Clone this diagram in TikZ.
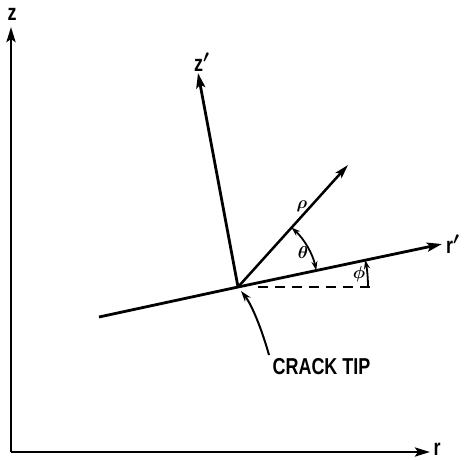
\documentclass[tikz,border=0pt]{standalone}
\usepackage{fontspec}
\usepackage{amsmath}
\newfontfamily\lab{Liberation Sans}[FakeStretch=0.78]
\usetikzlibrary{arrows.meta,calc}
\begin{document}
\begin{tikzpicture}[x=1pt,y=-1pt,
  axis/.style={line width=2.8pt,-{Stealth[length=15pt,width=9pt,inset=3pt]}},
  thin arc/.style={line width=1.8pt},
  labtxt/.style={font=\lab\bfseries\fontsize{23}{23}\selectfont,inner sep=0pt},
  greek/.style={font=\fontsize{17}{17}\selectfont,inner sep=0pt}]
\useasboundingbox (0,0) rectangle (465,459);
% coordinates
\coordinate (O) at (238,287);
\coordinate (zb) at (11,452);
\coordinate (zt) at (11,27);
\coordinate (rt) at (430,452);
\coordinate (rps) at (99,317);
\coordinate (rpt) at (442,244);
\coordinate (zpt) at (198,73);
\coordinate (rho) at (348,165);
\coordinate (ds) at (258,287);
\coordinate (de) at (372,287);
\coordinate (ct) at (269,355);
% axes
\draw[axis] (zb) -- (zt);
\draw[axis] (zb) -- (rt);
\node[labtxt] (zlab) at (12,14) {z};
\node[labtxt] (rlab) at (437,449) {r};
% rotated axes
\draw[line width=2.8pt] (rps) -- (O);
\draw[axis] (O) -- (rpt);
\draw[axis] (O) -- (zpt);
\draw[line width=2.5pt,-{Stealth[length=14pt,width=8pt,inset=3pt]}] (O) -- (rho);
\node[labtxt,anchor=west] (rplab) at (446,244) {r$\boldsymbol{'}$};
\node[labtxt,anchor=west] (zplab) at (194,62) {z$\boldsymbol{'}$};
% dashed reference
\draw[line width=2.2pt,dash pattern=on 10pt off 7pt] (ds) -- (de);
% angles
\draw[thin arc,{Stealth[length=9pt,width=6pt]}-{Stealth[length=9pt,width=6pt]}]
  ($(O)+(-48:80)$) arc[start angle=-48,end angle=-12,radius=80];
\draw[thin arc,-{Stealth[length=9pt,width=6pt]}]
  ($(O)+(0:130)$) arc[start angle=0,end angle=-12,radius=130];
\node[greek] (rholab) at (302,206) {$\boldsymbol{\rho}$};
\node[greek] (thlab) at (303,252) {$\boldsymbol{\theta}$};
\node[greek] (phlab) at (359,274) {$\boldsymbol{\phi}$};
% crack tip
\node[labtxt] (crack) at (321.5,367) {CRACK TIP};
\draw[line width=2pt,-{Stealth[length=11pt,width=7pt]}] (ct) .. controls (262,330) and (252,305) .. (241,291);
\end{tikzpicture}
\end{document}
